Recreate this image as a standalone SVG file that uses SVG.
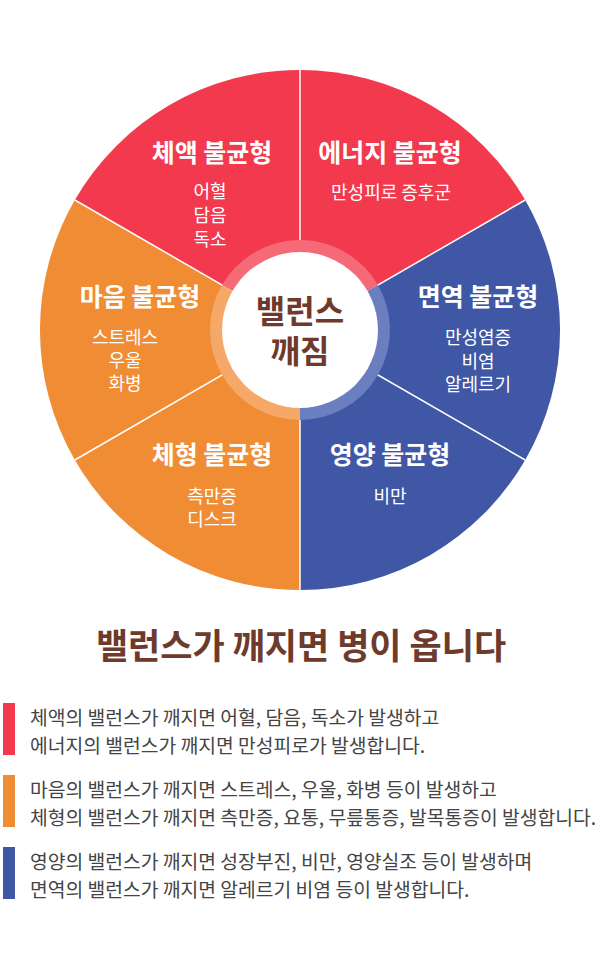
<svg xmlns="http://www.w3.org/2000/svg" width="600" height="970" viewBox="0 0 600 970">
<style>
.h{font-family:"Noto Sans CJK KR","Noto Sans",sans-serif;font-weight:700;font-size:25px;fill:#fff;text-anchor:middle}
.s{font-family:"Noto Sans CJK KR","Noto Sans",sans-serif;font-size:18px;fill:#fff;text-anchor:middle}
.c{font-family:"Noto Sans CJK KR",sans-serif;font-weight:700;font-size:32px;fill:#6e3a2c;text-anchor:middle}
.t{font-family:"Noto Sans CJK KR",sans-serif;font-weight:700;font-size:35px;fill:#6e3a2c;text-anchor:middle}
.b{font-family:"Noto Sans CJK KR",sans-serif;font-size:19.3px;fill:#444}
.sep{stroke:#fff;stroke-width:1.5}
</style>
<rect width="600" height="970" fill="#fff"/>
<g id="sectors">
<path d="M300 330L300 70A260 260 0 0 1 525.2 200Z" fill="#f2394e"/>
<path d="M300 330L525.2 200A260 260 0 0 1 525.2 460Z" fill="#3f57a5"/>
<path d="M300 330L525.2 460A260 260 0 0 1 300 590Z" fill="#3f57a5"/>
<path d="M300 330L300 590A260 260 0 0 1 74.8 460Z" fill="#f08c34"/>
<path d="M300 330L74.8 460A260 260 0 0 1 74.8 200Z" fill="#f08c34"/>
<path d="M300 330L74.8 200A260 260 0 0 1 300 70Z" fill="#f2394e"/>
</g>
<g id="connectors">
<line class="sep" x1="300" y1="330" x2="300" y2="70"/>
<line class="sep" x1="300" y1="330" x2="525.2" y2="200"/>
<line class="sep" x1="300" y1="330" x2="525.2" y2="460"/>
<line class="sep" x1="300" y1="330" x2="300" y2="590"/>
<line class="sep" x1="300" y1="330" x2="74.8" y2="460"/>
<line class="sep" x1="300" y1="330" x2="74.8" y2="200"/>
</g>
<g id="center">
<path d="M227.3 288A84 84 0 0 1 372.7 288" fill="none" stroke="#f66a78" stroke-width="12"/>
<path d="M372.7 288A84 84 0 0 1 300 414" fill="none" stroke="#6b7fc0" stroke-width="12"/>
<path d="M300 414A84 84 0 0 1 227.3 288" fill="none" stroke="#f5a867" stroke-width="12"/>
<circle cx="300" cy="330" r="78" fill="#fff"/>
<text class="c" x="300" y="323">밸런스</text>
<text class="c" x="300" y="363">깨짐</text>
</g>
<g id="n1"><text class="h" x="212" y="162">체액 불균형</text><text class="s" x="210" y="198">어혈</text><text class="s" x="210" y="222">담음</text><text class="s" x="210" y="246">독소</text></g>
<g id="n2"><text class="h" x="390" y="162">에너지 불균형</text><text class="s" x="391" y="199">만성피로 증후군</text></g>
<g id="n3"><text class="h" x="478" y="306">면역 불균형</text><text class="s" x="478" y="344">만성염증</text><text class="s" x="478" y="368">비염</text><text class="s" x="478" y="391">알레르기</text></g>
<g id="n4"><text class="h" x="140" y="306">마음 불균형</text><text class="s" x="125" y="344">스트레스</text><text class="s" x="125" y="367">우울</text><text class="s" x="125" y="390">화병</text></g>
<g id="n5"><text class="h" x="212" y="464">체형 불균형</text><text class="s" x="212" y="503">측만증</text><text class="s" x="212" y="526">디스크</text></g>
<g id="n6"><text class="h" x="390" y="464">영양 불균형</text><text class="s" x="390" y="503">비만</text></g>
<g id="legend">
<text class="t" x="301" y="659">밸런스가 깨지면 병이 옵니다</text>
<rect x="3" y="703" width="12" height="52" fill="#f2394e"/>
<rect x="3" y="775" width="12" height="52" fill="#f08c34"/>
<rect x="3" y="847" width="12" height="52" fill="#3f57a5"/>
<text class="b" x="30" y="725">체액의 밸런스가 깨지면 어혈, 담음, 독소가 발생하고</text>
<text class="b" x="30" y="753">에너지의 밸런스가 깨지면 만성피로가 발생합니다.</text>
<text class="b" x="30" y="797">마음의 밸런스가 깨지면 스트레스, 우울, 화병 등이 발생하고</text>
<text class="b" x="30" y="825">체형의 밸런스가 깨지면 측만증, 요통, 무릎통증, 발목통증이 발생합니다.</text>
<text class="b" x="30" y="869">영양의 밸런스가 깨지면 성장부진, 비만, 영양실조 등이 발생하며</text>
<text class="b" x="30" y="897">면역의 밸런스가 깨지면 알레르기 비염 등이 발생합니다.</text>
</g>
</svg>
